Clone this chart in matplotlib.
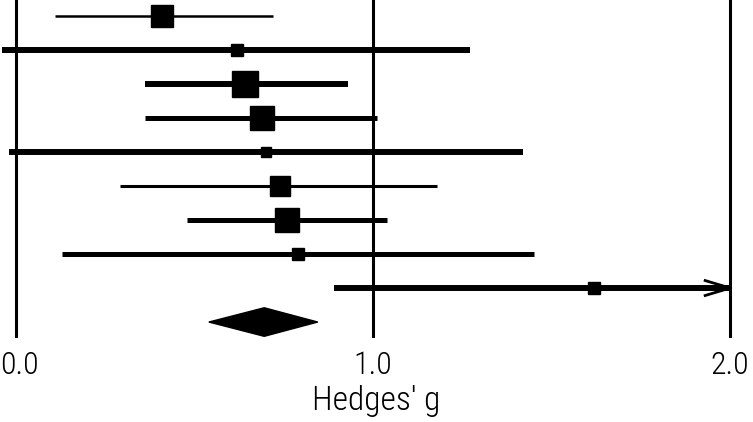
import matplotlib.pyplot as plt
import numpy as np

# study estimates (Hedges' g) with 95% CI, top to bottom
g = np.array([0.41, 0.62, 0.64, 0.69, 0.70, 0.74, 0.76, 0.79, 1.62])
lo = np.array([0.11, -0.04, 0.36, 0.36, -0.02, 0.29, 0.48, 0.13, 0.89])
hi = np.array([0.72, 1.27, 0.93, 1.01, 1.42, 1.18, 1.04, 1.45, 2.30])
weight = np.array([23, 12, 27, 24, 11, 20, 25, 12, 12])

# pooled estimate
pooled = 0.695
pooled_lo = 0.54
pooled_hi = 0.845

ticks = [0.0, 1.0, 2.0]
tick_labels = ["0.0", "1.0", "2.0"]

# line widths of the CI bars as drawn in the original
bar_lw = [1.8, 4.3, 4.3, 3.6, 4.3, 2.2, 3.6, 3.6, 4.3]

plt.rcParams['font.family'] = ['Liberation Sans Narrow', 'DejaVu Sans Condensed',
                               'Roboto Condensed', 'DejaVu Sans']

fig = plt.figure(figsize=(7.53, 4.22), dpi=100)
ax = fig.add_axes([0, 0.199, 1, 0.801])

xmin, xmax = -0.045, 2.064
clip = 2.0
rows = np.arange(len(g))

for x in ticks:
    ax.axvline(x, color='black', lw=2.2, zorder=1)

for i in rows:
    right = min(hi[i], clip)
    ax.plot([lo[i], right], [i, i], color='black', lw=bar_lw[i],
            solid_capstyle='butt', zorder=2)
    ax.plot(g[i], i, marker='s', color='black',
            markersize=weight[i] / 1.389, zorder=3)
    if hi[i] > clip:
        ax.plot([clip - 0.07, clip, clip - 0.07], [i - 0.22, i, i + 0.22],
                color='black', lw=2, zorder=3)

# summary diamond
yd = len(g)
h = 0.42
ax.fill([pooled_lo, pooled, pooled_hi, pooled],
        [yd, yd - h, yd, yd + h], color='black', zorder=3)

ax.set_xlim(xmin, xmax)
ax.set_ylim(len(g) + 0.47, -0.47)
ax.set_yticks([])
ax.set_xticks([])

# tick labels as text so the edge ones stay inside the picture
nudge = [2.5, 0, -0.5]
for x, lab, dx in zip(ticks, tick_labels, nudge):
    ax.annotate(lab, xy=(x, 0), xycoords=('data', 'axes fraction'),
                xytext=(dx, -9), textcoords='offset points',
                ha='center', va='top', fontsize=23, fontweight='light')

ax.text(0.5, -0.14, "Hedges' g", transform=ax.transAxes, ha='center', va='top',
        fontsize=24, fontweight='light')
for s in ax.spines.values():
    s.set_visible(False)

fig.savefig('out.png', dpi=100)
